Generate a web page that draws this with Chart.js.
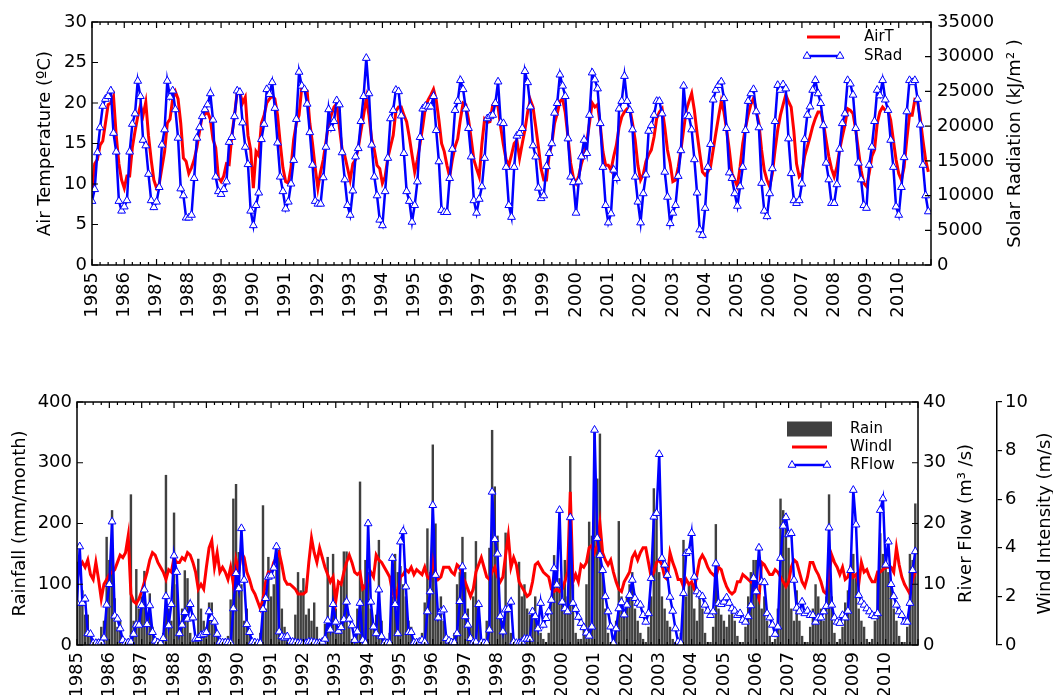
<!DOCTYPE html>
<html>
<head>
<meta charset="utf-8">
<script src="https://cdn.jsdelivr.net/npm/chart.js@4.4.0/dist/chart.umd.min.js"></script>
<style>
  html, body { margin: 0; padding: 0; background: #fff; }
  body { width: 1053px; height: 695px; position: relative; overflow: hidden; }
  .panel { position: absolute; left: 0; width: 1053px; }
  #topBox { top: 0; height: 330px; }
  #botBox { top: 380px; height: 315px; }
</style>
</head>
<body>
<div class="panel" id="topBox"><canvas id="topChart"></canvas></div>
<div class="panel" id="botBox"><canvas id="botChart"></canvas></div>
<script>
// monthly series, Jan 1985 .. Dec 2010 (one row per year)
const firstYear = 1985;
const yearLabels = [1985, 1986, 1987, 1988, 1989, 1990, 1991, 1992, 1993, 1994, 1995, 1996, 1997,
  1998, 1999, 2000, 2001, 2002, 2003, 2004, 2005, 2006, 2007, 2008, 2009, 2010];

// air temperature (ºC)
const airTemp = [
  9.1, 12.5, 13.0, 14.8, 15.3, 17.5, 19.8, 20.0, 20.8, 16.0, 12.5, 10.5,
  9.5, 11.0, 11.0, 14.5, 16.5, 18.3, 19.7, 18.5, 20.1, 16.0, 13.0, 10.5,
  9.5, 10.0, 12.0, 14.0, 17.5, 18.0, 20.5, 21.4, 20.5, 17.5, 13.2, 12.8,
  11.3, 12.0, 13.0, 14.5, 16.5, 18.5, 18.6, 18.9, 18.0, 15.5, 14.5, 10.8,
  10.3, 11.0, 12.5, 12.4, 16.0, 18.5, 21.4, 21.3, 20.0, 20.7, 16.0, 14.2,
  9.5, 14.0, 13.5, 17.5, 18.5, 20.0, 20.5, 20.9, 20.5, 18.5, 15.0, 12.0,
  10.3, 10.1, 12.0, 15.5, 17.5, 18.5, 21.9, 21.7, 21.5, 17.5, 15.0, 12.0,
  9.5, 11.5, 13.0, 15.2, 17.5, 18.5, 19.5, 19.9, 17.0, 14.3, 13.5, 12.0,
  10.5, 12.5, 13.0, 14.4, 16.5, 18.5, 20.6, 18.5, 15.5, 14.2, 12.3, 11.9,
  10.1, 10.9, 13.2, 14.6, 16.0, 19.0, 19.5, 19.5, 18.5, 17.7, 15.8, 13.6,
  11.5, 13.0, 15.0, 17.1, 19.5, 20.4, 21.0, 21.7, 20.4, 17.9, 15.0, 14.0,
  12.3, 10.9, 13.0, 14.6, 15.6, 18.0, 20.0, 19.8, 18.0, 15.6, 13.0, 11.9,
  10.9, 15.0, 18.0, 17.6, 17.7, 19.7, 20.2, 19.5, 17.0, 14.8, 13.0, 12.3,
  13.6, 15.0, 15.4, 13.2, 15.0, 16.7, 18.9, 20.4, 19.5, 17.1, 14.6, 11.9,
  10.5, 10.5, 13.6, 15.0, 17.5, 18.7, 20.2, 20.5, 18.8, 15.8, 12.6, 10.8,
  10.1, 11.0, 12.5, 13.6, 15.2, 17.5, 20.0, 19.5, 19.8, 17.3, 14.0, 12.3,
  12.3, 11.7, 13.4, 14.8, 17.0, 18.3, 18.9, 19.3, 19.3, 17.5, 15.4, 12.3,
  10.5, 11.2, 12.8, 13.6, 14.2, 15.8, 18.1, 18.9, 19.3, 17.0, 14.2, 12.6,
  10.3, 10.5, 12.1, 14.2, 16.7, 19.1, 20.2, 21.2, 19.1, 16.3, 13.8, 11.5,
  11.1, 11.5, 12.1, 14.2, 16.3, 18.3, 20.2, 18.9, 16.7, 14.2, 11.3, 10.5,
  9.7, 12.1, 15.0, 16.9, 18.5, 19.8, 20.6, 19.1, 17.5, 14.2, 11.7, 10.5,
  9.7, 11.3, 14.2, 16.7, 18.5, 19.8, 21.0, 20.2, 19.5, 16.5, 12.5, 10.9,
  11.3, 13.4, 14.6, 15.8, 17.1, 18.1, 18.9, 18.9, 17.5, 15.4, 13.4, 11.9,
  10.9, 12.1, 14.2, 15.8, 17.3, 19.3, 19.1, 18.7, 16.7, 14.2, 11.7, 10.1,
  9.7, 11.3, 13.4, 14.2, 17.5, 18.9, 19.5, 19.1, 19.1, 17.9, 15.4, 13.0,
  11.3, 10.5, 12.1, 15.5, 18.5, 18.5, 20.4, 20.2, 18.1, 15.4, 13.0, 11.5
];

// solar radiation (kJ/m2)
const solarRad = [
  9200, 10900, 16200, 19800, 22900, 23900, 24300, 25100, 19000, 16300, 9200, 7800,
  8400, 9300, 16300, 20300, 21800, 26500, 24300, 18000, 17200, 13100, 9300, 8300,
  9100, 11200, 17300, 19500, 26500, 24200, 25100, 22400, 18300, 11000, 10000, 6800,
  6800, 7200, 12500, 18300, 19800, 21400, 22400, 23100, 24700, 20900, 12700, 10600,
  10200, 10900, 12000, 17700, 18400, 21400, 25100, 24900, 20500, 17000, 14500, 7800,
  5700, 8600, 10400, 18100, 20300, 25300, 24600, 26300, 22600, 17600, 12700, 10600,
  8100, 9100, 11700, 15100, 21000, 27800, 25800, 25300, 23200, 19100, 14400, 9200,
  8800, 8800, 12600, 17000, 22400, 19700, 20700, 23700, 23100, 16200, 12300, 8600,
  7200, 10700, 15600, 16800, 20700, 24300, 29800, 24700, 17300, 12700, 10000, 6500,
  5700, 10600, 15400, 21100, 22300, 25200, 25000, 21500, 16100, 10600, 9200, 6200,
  8600, 12000, 18400, 22500, 22900, 22800, 22800, 24300, 19400, 14900, 7900, 7600,
  7600, 12500, 16700, 22300, 23600, 26600, 25300, 22500, 19700, 15600, 9300, 7500,
  9500, 11300, 15400, 21100, 21400, 21600, 23300, 26400, 20500, 20400, 14100, 8600,
  6900, 14100, 18600, 19000, 19700, 27900, 26300, 22800, 17200, 15600, 11100, 9600,
  10000, 14200, 16100, 17500, 21900, 23300, 27400, 25800, 24300, 18200, 12700, 11900,
  7500, 12000, 15600, 18000, 16100, 21600, 27700, 26700, 25400, 20400, 14100, 8600,
  6100, 7400, 13700, 12500, 22500, 23600, 27200, 23600, 22300, 19500, 12700, 9100,
  6100, 10300, 13000, 19300, 20100, 21600, 23600, 23600, 21800, 13400, 9800, 6000,
  7500, 8600, 12800, 16500, 25800, 21500, 21400, 19500, 15200, 10400, 5100, 4300,
  8200, 14100, 17400, 23800, 25200, 25900, 26400, 24000, 19700, 13300, 12500, 10300,
  8500, 11300, 14100, 19400, 23600, 24700, 25300, 22100, 19800, 11800, 7800, 7000,
  10300, 13900, 20700, 25900, 25200, 26000, 25400, 18200, 13200, 9300, 8900, 9300,
  11700, 18100, 21600, 22800, 25200, 26600, 24700, 23300, 20100, 14700, 12300, 8900,
  8900, 11600, 16700, 20400, 21800, 26600, 26100, 24500, 19700, 14700, 12300, 8600,
  8200, 14400, 17000, 20700, 25200, 24400, 26600, 23800, 22300, 18000, 14100, 8400,
  7200, 11200, 15500, 22100, 26600, 26300, 26600, 23900, 20200, 14400, 10000, 7700
];

// rainfall (mm/month)
const rainfall = [
  137, 65, 90, 50, 50, 15, 5, 3, 10, 30, 40, 178,
  140, 222, 77, 30, 40, 10, 5, 5, 248, 40, 125, 60,
  80, 122, 40, 85, 30, 10, 5, 5, 20, 280, 60, 40,
  218, 100, 40, 60, 123, 110, 20, 8, 15, 142, 60, 40,
  30, 70, 70, 40, 20, 8, 5, 10, 15, 75, 241, 265,
  153, 100, 40, 60, 20, 10, 5, 8, 20, 230, 60, 145,
  80, 100, 132, 157, 60, 30, 10, 5, 10, 50, 120, 90,
  110, 50, 60, 40, 70, 30, 10, 5, 35, 145, 40, 150,
  60, 30, 100, 154, 154, 30, 10, 20, 60, 269, 100, 140,
  120, 60, 30, 50, 173, 40, 10, 5, 20, 80, 150, 120,
  130, 100, 80, 40, 30, 10, 5, 5, 20, 70, 192, 120,
  330, 200, 60, 80, 40, 15, 5, 5, 20, 100, 120, 178,
  120, 60, 30, 80, 171, 60, 10, 5, 40, 160, 354, 261,
  180, 60, 40, 185, 60, 20, 10, 5, 137, 80, 100, 60,
  50, 60, 80, 40, 20, 10, 5, 20, 80, 148, 120, 110,
  100, 140, 80, 311, 100, 20, 10, 10, 30, 100, 203, 180,
  351, 274, 348, 120, 60, 20, 5, 5, 40, 204, 80, 60,
  80, 100, 120, 60, 40, 20, 10, 5, 30, 80, 258, 222,
  120, 80, 60, 40, 30, 10, 5, 5, 20, 173, 80, 100,
  100, 60, 40, 80, 60, 20, 5, 5, 30, 199, 60, 50,
  40, 30, 50, 60, 40, 15, 5, 5, 30, 80, 120, 140,
  140, 90, 60, 80, 40, 15, 5, 10, 60, 241, 222, 200,
  160, 60, 40, 90, 40, 15, 5, 5, 30, 60, 100, 80,
  60, 40, 80, 248, 80, 20, 5, 10, 30, 70, 90, 120,
  150, 110, 60, 40, 30, 10, 5, 10, 40, 120, 184, 150,
  140, 120, 100, 60, 40, 15, 5, 5, 30, 150, 140, 233
];

// wind intensity (m/s)
const windInt = [
  2.7, 3.2, 3.4, 3.2, 3.5, 2.9, 2.7, 3.4, 2.7, 1.9, 2.5, 2.7,
  2.9, 3.0, 3.1, 3.4, 3.7, 3.6, 3.8, 4.5, 2.1, 1.8, 1.7, 1.9,
  2.2, 2.6, 3.0, 3.5, 3.8, 3.7, 3.4, 3.2, 3.0, 2.7, 3.1, 3.0,
  3.6, 3.4, 3.4, 3.6, 3.5, 3.8, 3.7, 3.4, 3.0, 2.3, 2.5, 2.3,
  3.2, 4.0, 4.3, 3.2, 3.8, 3.0, 3.2, 3.0, 2.7, 3.2, 2.5, 3.5,
  3.0, 3.8, 3.6, 3.0, 2.7, 2.3, 2.1, 1.8, 1.5, 1.9, 2.6, 3.0,
  3.0, 3.4, 3.6, 3.8, 3.3, 2.7, 2.5, 2.5, 2.4, 2.3, 2.1, 2.1,
  2.1, 2.2, 3.4, 4.4, 3.8, 3.4, 4.0, 3.6, 3.2, 2.9, 2.6, 2.8,
  1.8, 2.6, 2.5, 3.0, 3.4, 3.7, 3.4, 3.0, 2.9, 3.0, 2.3, 2.4,
  2.7, 3.0, 2.8, 3.7, 3.5, 3.4, 3.2, 3.0, 2.8, 2.2, 1.9, 2.3,
  2.8, 2.9, 3.1, 3.0, 3.2, 2.9, 3.1, 3.0, 2.9, 3.2, 2.8, 2.7,
  3.5, 3.0, 2.7, 2.8, 3.2, 3.2, 3.2, 3.0, 2.9, 3.3, 3.2, 2.8,
  2.6, 2.3, 2.0, 2.3, 3.0, 3.3, 3.6, 3.2, 2.8, 2.7, 3.0, 3.2,
  2.8, 2.6, 2.8, 3.7, 4.5, 3.2, 3.6, 3.3, 2.6, 2.4, 2.2, 2.0,
  2.1, 2.6, 3.3, 3.4, 3.2, 3.0, 2.9, 2.8, 2.3, 2.2, 2.3, 2.2,
  2.3, 2.6, 3.0, 6.3, 2.6, 2.9, 2.6, 3.3, 3.2, 3.4, 4.0, 4.1,
  3.8, 4.1, 5.0, 3.8, 3.5, 3.3, 3.5, 3.0, 2.6, 2.3, 2.2, 2.6,
  2.8, 3.0, 3.6, 3.8, 3.5, 3.8, 4.0, 4.0, 3.4, 2.8, 3.0, 3.4,
  3.5, 3.3, 2.8, 2.7, 3.8, 3.4, 3.1, 2.7, 2.7, 2.4, 2.7, 2.5,
  2.6, 2.3, 2.9, 3.5, 3.7, 3.5, 3.2, 3.0, 2.9, 2.8, 3.2, 3.1,
  2.7, 2.4, 2.2, 2.1, 2.2, 2.6, 2.6, 2.9, 2.8, 2.7, 2.6, 2.5,
  2.2, 1.9, 3.4, 3.3, 3.1, 2.9, 2.9, 3.1, 3.0, 2.8, 2.6, 2.4,
  2.6, 3.2, 3.5, 3.4, 3.0, 2.6, 2.4, 2.8, 3.4, 3.4, 3.1, 2.9,
  2.6, 2.2, 2.1, 2.9, 3.7, 3.4, 3.2, 2.9, 3.2, 2.7, 2.8, 3.2,
  2.8, 2.9, 2.5, 3.4, 3.0, 3.1, 2.8, 2.6, 2.6, 3.0, 3.0, 3.1,
  3.2, 3.2, 3.2, 3.0, 4.0, 3.3, 2.8, 2.5, 2.3, 2.1, 2.7, 3.0
];

// river flow (m3/s)
const riverFlow = [
  6.9, 16.2, 6.9, 7.6, 1.9, 1.8, 0.3, 0.3, 0.3, 0.5, 1.2, 6.6,
  10.0, 20.3, 4.8, 4.3, 2.7, 0.8, 0.3, 0.4, 0.5, 1.8, 3.3, 3.3,
  6.5, 9.1, 3.4, 6.5, 2.1, 0.7, 0.4, 0.3, 1.1, 8.0, 3.2, 6.7,
  14.7, 12.0, 1.9, 3.3, 5.4, 4.3, 6.7, 4.5, 1.0, 1.1, 1.6, 1.8,
  2.1, 5.5, 4.4, 3.8, 1.8, 0.5, 0.4, 0.4, 0.4, 0.3, 6.0, 11.8,
  9.3, 19.2, 10.7, 3.4, 2.1, 0.5, 0.4, 0.3, 0.3, 5.9, 7.7, 11.2,
  11.4, 12.7, 16.2, 2.2, 1.4, 1.2, 1.4, 0.5, 0.5, 0.4, 0.3, 0.3,
  0.3, 0.3, 0.5, 0.5, 0.4, 0.3, 0.3, 0.5, 1.0, 4.0, 2.5, 6.7,
  3.8, 2.3, 2.9, 4.2, 7.1, 4.3, 3.2, 0.8, 2.2, 6.9, 0.8, 0.3,
  20.0, 7.1, 3.0, 1.9, 9.1, 1.4, 0.3, 0.3, 0.3, 14.3, 6.7, 1.9,
  17.0, 18.7, 9.6, 2.1, 2.1, 0.4, 0.4, 0.5, 0.8, 0.5, 5.5, 8.8,
  23.0, 11.5, 4.5, 5.5, 5.8, 1.1, 0.7, 0.4, 0.4, 1.9, 7.2, 12.9,
  4.7, 3.3, 1.1, 0.4, 0.5, 6.7, 0.4, 0.3, 0.3, 2.5, 25.2, 17.4,
  15.0, 4.7, 2.2, 5.8, 5.9, 7.1, 0.5, 0.3, 0.3, 0.5, 1.0, 1.0,
  1.0, 5.5, 4.7, 2.7, 6.9, 3.3, 4.4, 5.5, 7.4, 12.6, 9.9, 22.2,
  7.1, 6.0, 5.5, 21.0, 6.9, 5.9, 4.6, 3.6, 2.9, 2.0, 1.5, 3.0,
  35.4, 17.6, 14.8, 12.3, 8.0, 5.5, 3.0, 0.3, 2.7, 6.0, 7.0, 5.0,
  6.6, 8.2, 10.7, 7.7, 6.9, 6.6, 4.9, 3.8, 5.2, 11.0, 21.1, 21.7,
  31.4, 14.3, 13.2, 11.5, 7.9, 5.6, 2.7, 0.5, 0.3, 8.5, 15.1, 15.4,
  18.4, 11.2, 8.8, 8.3, 8.0, 6.6, 5.6, 4.9, 5.5, 13.4, 6.9, 6.7,
  7.1, 7.8, 6.9, 6.0, 5.6, 4.9, 5.2, 4.1, 3.8, 4.7, 6.5, 11.0,
  8.8, 16.0, 10.4, 10.3, 5.2, 4.5, 3.3, 1.8, 3.0, 14.3, 19.6, 21.0,
  18.2, 18.4, 10.7, 6.1, 5.5, 7.1, 5.2, 5.6, 4.9, 4.9, 3.8, 4.5,
  4.5, 5.5, 6.4, 19.3, 6.6, 4.5, 3.8, 3.6, 4.9, 4.5, 5.6, 12.3,
  25.5, 19.8, 8.2, 7.1, 6.6, 6.0, 5.5, 4.9, 4.7, 5.2, 22.2, 24.1,
  13.2, 17.0, 10.0, 8.0, 6.6, 5.5, 4.9, 3.8, 3.8, 6.9, 12.3, 15.4
];

const RED = "#ff0000";
const BLUE = "#0000ff";
const FONT = "'DejaVu Sans', 'Liberation Sans', sans-serif";
Chart.defaults.font.family = FONT;
Chart.defaults.color = "#000";

// month index -> decimal year
const toPoints = (vals) => vals.map((v, i) => ({ x: firstYear + i / 12, y: v }));

function drawTriangle(ctx, x, y, r) {
  ctx.beginPath();
  ctx.moveTo(x, y - r);
  ctx.lineTo(x + 0.866 * r, y + 0.5 * r);
  ctx.lineTo(x - 0.866 * r, y + 0.5 * r);
  ctx.closePath();
  ctx.fillStyle = "#fff";
  ctx.fill();
  ctx.lineWidth = 1;
  ctx.strokeStyle = BLUE;
  ctx.stroke();
}

// frame, inward ticks, right-hand titles and legend (matplotlib look)
const decorPlugin = {
  id: "decor",
  afterDatasetsDraw(chart, args, opts) {
    const { ctx, chartArea: a, scales } = chart;
    ctx.save();
    ctx.strokeStyle = "#000";
    ctx.lineWidth = 1.2;
    ctx.beginPath();
    const xs = scales.x;
    for (let q = xs.min * 4; q <= xs.max * 4; q++) {
      const px = xs.getPixelForValue(q / 4);
      const len = q % 4 === 0 ? 6 : 3;
      ctx.moveTo(px, a.bottom); ctx.lineTo(px, a.bottom - len);
      ctx.moveTo(px, a.top); ctx.lineTo(px, a.top + len);
    }
    const ly = scales[opts.leftAxis];
    ly.ticks.forEach(t => {
      const py = ly.getPixelForValue(t.value);
      ctx.moveTo(a.left, py); ctx.lineTo(a.left + 6, py);
    });
    const ry = scales[opts.rightAxis];
    ry.ticks.forEach(t => {
      const py = ry.getPixelForValue(t.value);
      ctx.moveTo(a.right, py); ctx.lineTo(a.right - 6, py);
    });
    ctx.stroke();
    ctx.lineWidth = 1.5;
    ctx.strokeRect(a.left, a.top, a.right - a.left, a.bottom - a.top);

    // rotated titles of the right axes
    ctx.fillStyle = "#000";
    ctx.font = "18px " + FONT;
    ctx.textAlign = "center";
    ctx.textBaseline = "middle";
    opts.sideTitles.forEach(t => {
      ctx.save();
      ctx.translate(t.x, (a.top + a.bottom) / 2);
      ctx.rotate(-Math.PI / 2);
      ctx.fillText(t.text, 0, 0);
      ctx.restore();
    });

    // legend
    const lg = opts.legend;
    lg.items.forEach(it => {
      if (it.kind === "box") {
        ctx.fillStyle = "#404040";
        ctx.fillRect(lg.x0 - 5, it.y - 7.5, lg.x1 - lg.x0 + 10, 15);
      } else {
        ctx.beginPath();
        ctx.moveTo(lg.x0, it.y); ctx.lineTo(lg.x1, it.y);
        ctx.strokeStyle = it.color;
        ctx.lineWidth = it.width;
        ctx.stroke();
        if (it.kind === "tri") {
          drawTriangle(ctx, lg.x0, it.y, 4.5);
          drawTriangle(ctx, lg.x1, it.y, 4.5);
        }
      }
      ctx.fillStyle = "#000";
      ctx.font = "15px " + FONT;
      ctx.textAlign = "left";
      ctx.textBaseline = "middle";
      ctx.fillText(it.text, lg.textX, it.y);
    });
    ctx.restore();
  }
};

const xAxis = (h) => ({
  type: "linear", min: 1985, max: 2011, offset: false,
  grid: { display: false, drawTicks: false }, border: { display: false },
  afterBuildTicks: s => { s.ticks = yearLabels.map(v => ({ value: v })); },
  ticks: { autoSkip: false, minRotation: 90, maxRotation: 90, padding: 7,
           font: { size: 18 }, callback: v => String(v) },
  afterFit: s => { s.height = h; }
});

const plainY = (pos, min, max, step, width, pad) => ({
  position: pos, min: min, max: max,
  grid: { display: false, drawTicks: false }, border: { display: false },
  ticks: { stepSize: step, padding: pad, font: { size: 18 }, callback: v => String(v) },
  afterFit: s => { s.width = width; }
});

// top panel: air temperature and solar radiation
const yTemp = plainY("left", 0, 30, 5, 92, 5);
yTemp.title = { display: true, text: "Air Temperature (ºC)", font: { size: 18 }, padding: { top: 35, bottom: 0 } };

new Chart(document.getElementById("topChart"), {
  type: "line",
  data: {
    datasets: [
      { label: "AirT", data: toPoints(airTemp), yAxisID: "yT", borderColor: RED, borderWidth: 3,
        pointRadius: 0, tension: 0, order: 2 },
      { label: "SRad", data: toPoints(solarRad), yAxisID: "yS", borderColor: BLUE, borderWidth: 2.5,
        pointStyle: "triangle", pointRadius: 4.5, pointBackgroundColor: "#fff",
        pointBorderColor: BLUE, pointBorderWidth: 1, tension: 0, order: 1 }
    ]
  },
  options: {
    responsive: true, maintainAspectRatio: false, animation: false,
    layout: { padding: { top: 22, left: 0, right: 0, bottom: 0 } },
    plugins: {
      legend: { display: false }, tooltip: { enabled: false },
      decor: {
        leftAxis: "yT", rightAxis: "yS",
        sideTitles: [{ x: 1015, text: "Solar Radiation (kJ/m² )" }],
        legend: { x0: 807, x1: 840, textX: 864, items: [
          { kind: "line", color: RED, width: 3, y: 37, text: "AirT" },
          { kind: "tri", color: BLUE, width: 2.5, y: 56, text: "SRad" }
        ] }
      }
    },
    scales: {
      x: xAxis(65),
      yT: yTemp,
      yS: plainY("right", 0, 35000, 5000, 122, 6)
    }
  },
  plugins: [decorPlugin]
});

// bottom panel: rainfall, wind intensity and river flow
const yRain = plainY("left", 0, 400, 100, 77, 5);
yRain.title = { display: true, text: "Rainfall (mm/month)", font: { size: 18 }, padding: { top: 10, bottom: 0 } };
const yFlow = plainY("right", 0, 40, 10, 79, 5);
yFlow.weight = 0;
const yWind = {
  position: "right", min: 0, max: 10, weight: 1,
  grid: { display: true, drawOnChartArea: false, drawTicks: true, tickLength: 5, color: "#000", lineWidth: 1.2 },
  border: { display: true, color: "#000", width: 1.5 },
  ticks: { stepSize: 2, padding: 3, font: { size: 18 }, callback: v => String(v) },
  afterFit: s => { s.width = 56; }
};

new Chart(document.getElementById("botChart"), {
  type: "bar",
  data: {
    datasets: [
      { type: "bar", label: "Rain", data: toPoints(rainfall), yAxisID: "yR", backgroundColor: "#404040",
        borderWidth: 0, barPercentage: 0.9, categoryPercentage: 1.0, order: 3 },
      { type: "line", label: "WindI", data: toPoints(windInt), yAxisID: "yW", borderColor: RED,
        borderWidth: 3, pointRadius: 0, tension: 0, order: 2 },
      { type: "line", label: "RFlow", data: toPoints(riverFlow), yAxisID: "yF", borderColor: BLUE,
        borderWidth: 2.5, pointStyle: "triangle", pointRadius: 4.5, pointBackgroundColor: "#fff",
        pointBorderColor: BLUE, pointBorderWidth: 1, tension: 0, order: 1 }
    ]
  },
  options: {
    responsive: true, maintainAspectRatio: false, animation: false,
    layout: { padding: { top: 22, left: 0, right: 0, bottom: 0 } },
    plugins: {
      legend: { display: false }, tooltip: { enabled: false },
      decor: {
        leftAxis: "yR", rightAxis: "yF",
        sideTitles: [{ x: 966, text: "River Flow (m³ /s)" }, { x: 1045, text: "Wind Intensity (m/s)" }],
        legend: { x0: 792, x1: 827, textX: 850, items: [
          { kind: "box", y: 49, text: "Rain" },
          { kind: "line", color: RED, width: 3, y: 67, text: "WindI" },
          { kind: "tri", color: BLUE, width: 2.5, y: 85, text: "RFlow" }
        ] }
      }
    },
    scales: {
      x: xAxis(50),
      yR: yRain,
      yF: yFlow,
      yW: yWind
    }
  },
  plugins: [decorPlugin]
});
</script>
</body>
</html>
